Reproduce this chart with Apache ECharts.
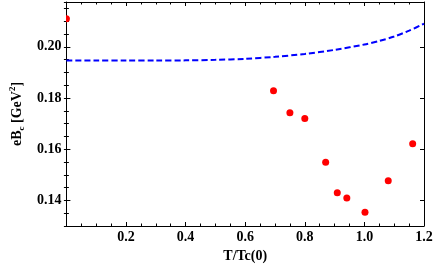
<!DOCTYPE html>
<html>
<head>
<meta charset="utf-8">
<script src="https://cdn.jsdelivr.net/npm/echarts@6/dist/echarts.min.js"></script>
<style>html,body{margin:0;padding:0;background:#fff}#c{width:436px;height:270px}</style>
</head>
<body>
<div id="c"></div>
<script>
// Data points (red dots)
var pointT = [0.0, 0.695, 0.75, 0.80, 0.87, 0.909, 0.941, 1.002, 1.08, 1.162];
var pointB = [0.2110, 0.1828, 0.1742, 0.1720, 0.1549, 0.1430, 0.1409, 0.1354, 0.1477, 0.1621];
// Dashed curve
var curveT = [0, 0.1, 0.2, 0.3, 0.4, 0.5, 0.6, 0.7, 0.8, 0.9, 1.0, 1.05, 1.1, 1.15, 1.2];
var curveB = [0.1946, 0.1946, 0.1946, 0.1946, 0.1947, 0.1949, 0.1953, 0.1961, 0.1972, 0.1988, 0.2009, 0.2023, 0.2040, 0.2063, 0.2090];
// Tick labels
var xLabels = [0.2, 0.4, 0.6, 0.8, 1.0, 1.2];
var yLabels = [0.14, 0.16, 0.18, 0.20];

var FONT = '"Liberation Serif", "DejaVu Serif", serif';
var chart = echarts.init(document.getElementById('c'), null, {renderer: 'canvas'});

var curveData = curveT.map(function (t, i) { return [t, curveB[i]]; });
var pointData = pointT.map(function (t, i) { return [t, pointB[i]]; });

var XMIN = 0, XMAX = 1.2, YMIN = 0.13, YMAX = 0.2175;
var lineStyle = {color: '#000', width: 1};

function xAx(pos, withLabels) {
  return {
    type: 'value', position: pos, min: XMIN, max: XMAX, interval: 0.2,
    axisLine: {show: true, onZero: false, lineStyle: lineStyle},
    axisTick: {show: true, inside: true, length: 4, lineStyle: lineStyle},
    minorTick: {show: true, splitNumber: 4, length: 2.5, lineStyle: lineStyle},
    splitLine: {show: false},
    axisLabel: {
      show: withLabels, margin: 4, color: '#000',
      fontFamily: FONT, fontWeight: 'bold', fontSize: 14,
      formatter: function (v) {
        for (var i = 0; i < xLabels.length; i++) {
          if (Math.abs(v - xLabels[i]) < 1e-6) return xLabels[i].toFixed(1);
        }
        return '';
      }
    },
    name: withLabels ? 'T/Tc(0)' : '',
    nameLocation: 'middle', nameGap: 18,
    nameTextStyle: {color: '#000', fontFamily: FONT, fontWeight: 'bold', fontSize: 14}
  };
}

function yMajor(pos, withLabels) {
  return {
    type: 'value', position: pos, min: YMIN, max: YMAX,
    axisLine: {show: true, onZero: false, lineStyle: lineStyle},
    axisTick: {show: true, inside: true, length: 4, customValues: yLabels, lineStyle: lineStyle},
    splitLine: {show: false},
    axisLabel: {
      show: withLabels, margin: 5, color: '#000', customValues: yLabels,
      fontFamily: FONT, fontWeight: 'bold', fontSize: 14,
      formatter: function (v) { return v.toFixed(2); }
    },
    name: withLabels ? '{a|eB}{b|c}{a| [GeV}{c|2}{a|]}' : '',
    nameLocation: 'middle', nameGap: 40, nameRotate: 90,
    nameTextStyle: {
      color: '#000', fontFamily: FONT, fontWeight: 'bold', fontSize: 14,
      rich: {
        a: {fontFamily: FONT, fontWeight: 'bold', fontSize: 14, color: '#000', lineHeight: 18, verticalAlign: 'middle'},
        b: {fontFamily: FONT, fontWeight: 'bold', fontSize: 9, color: '#000', lineHeight: 18, verticalAlign: 'bottom'},
        c: {fontFamily: FONT, fontWeight: 'bold', fontSize: 9, color: '#000', lineHeight: 18, verticalAlign: 'top'}
      }
    }
  };
}

function yMinor(pos) {
  return {
    type: 'value', position: pos, min: YMIN, max: YMAX, interval: 0.005,
    axisLine: {show: false},
    axisTick: {show: true, inside: true, length: 2.5, lineStyle: lineStyle},
    splitLine: {show: false},
    axisLabel: {show: false}
  };
}

chart.setOption({
  animation: false,
  backgroundColor: '#fff',
  grid: {left: 60, right: 12, top: 2, bottom: 44, containLabel: false},
  xAxis: [xAx('bottom', true), xAx('top', false)],
  yAxis: [yMajor('left', true), yMinor('left'), yMajor('right', false), yMinor('right')],
  series: [
    {
      type: 'line', xAxisIndex: 0, yAxisIndex: 0, data: curveData,
      smooth: 0.3, showSymbol: false, symbol: 'none',
      lineStyle: {color: '#0000ff', width: 2, type: [6, 3]},
      z: 2
    },
    {
      type: 'custom', xAxisIndex: 0, yAxisIndex: 0, data: pointData, clip: true,
      renderItem: function (params, api) {
        var p = api.coord([api.value(0), api.value(1)]);
        return {type: 'circle', shape: {cx: p[0], cy: p[1], r: 3.5}, style: {fill: '#ff0000'}};
      },
      z: 3
    }
  ]
});
</script>
</body>
</html>
